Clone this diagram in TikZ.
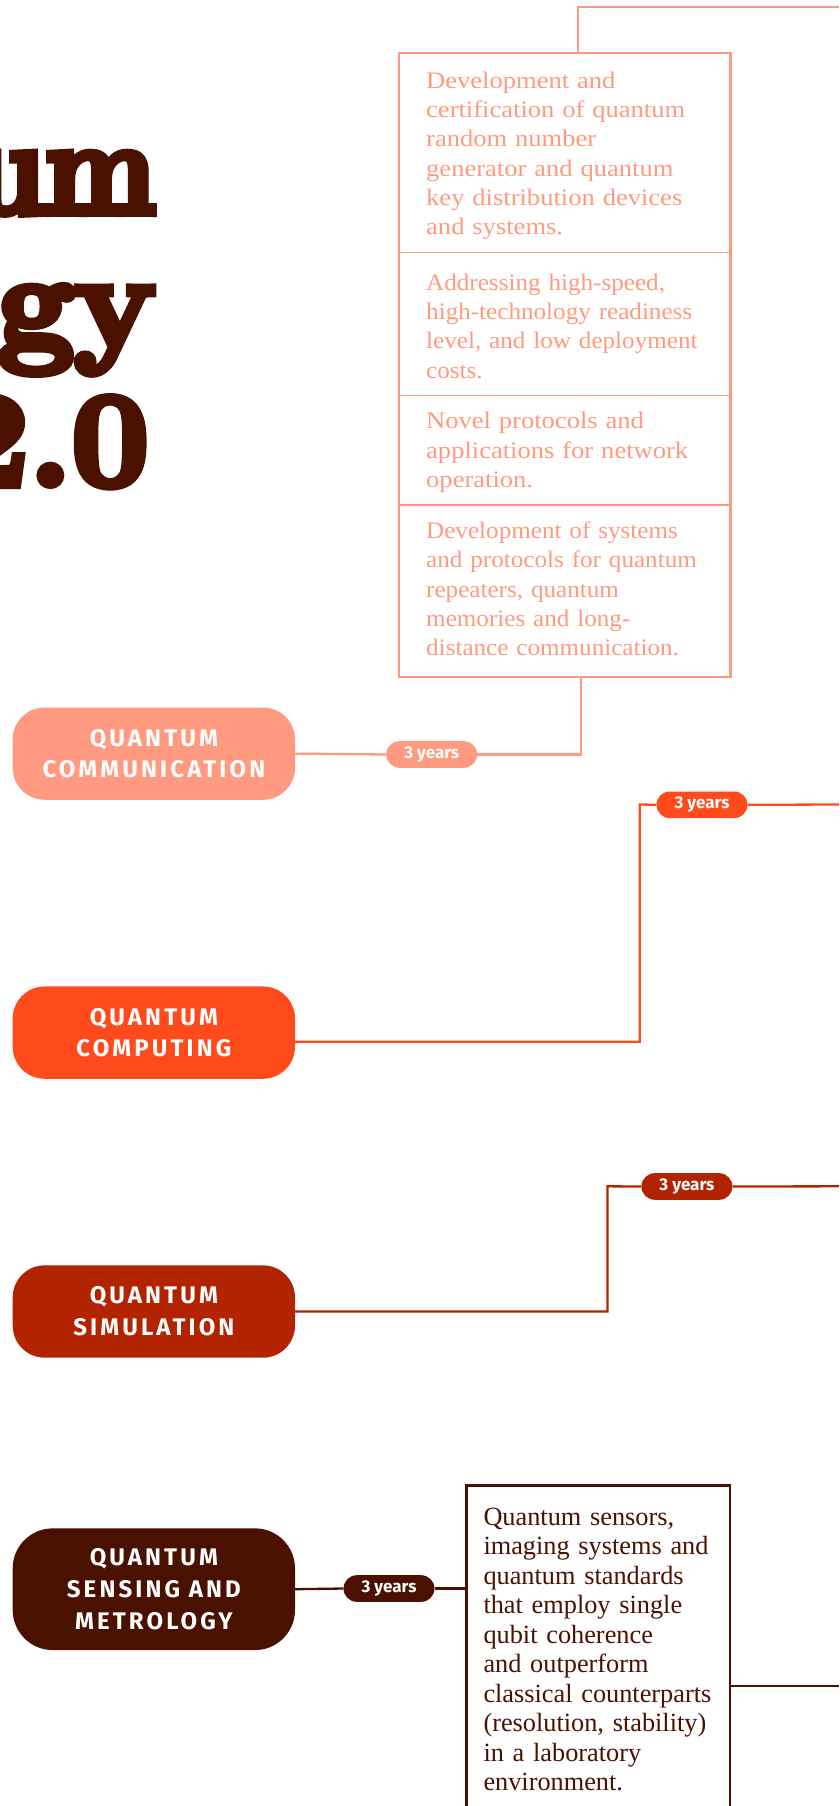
\documentclass[tikz,border=0pt]{standalone}
\usepackage{fontspec}
\newfontfamily\catfont[LetterSpace=13]{Fira Sans}
\newfontfamily\pillfont{Fira Sans}
\newfontfamily\commfont[FakeStretch=1.12]{Liberation Serif}
\newfontfamily\commfontn[FakeStretch=1.06]{Liberation Serif}
\newfontfamily\sensefont{Liberation Serif}
\newfontfamily\titlefont[FakeStretch=0.88,FakeBold=6]{Latin Modern Roman}
\newfontfamily\titlefontw[FakeStretch=1.02,FakeBold=6]{Latin Modern Roman}
\definecolor{ccomm}{HTML}{FF9A80}
\definecolor{ccomp}{HTML}{FF4B1C}
\definecolor{csim}{HTML}{B22400}
\definecolor{csens}{HTML}{4B1100}
\tikzset{
  cat/.style={rectangle, rounded corners=32pt, minimum width=282.3pt, minimum height=92.3pt,
    inner sep=0pt, align=center, text=white, font=\catfont\bfseries\fontsize{24}{31.7}\selectfont},
  pill/.style={rectangle, rounded corners=13.3pt, minimum width=91pt, minimum height=26.6pt,
    inner sep=0pt, text=white, font=\pillfont\bfseries\fontsize{17}{20}\selectfont},
  link/.style={line width=2.3pt},
  divider/.style={line width=1.5pt},
  ctext/.style={anchor=base west, inner sep=0pt, text width=300pt, align=left, text=ccomm,
    font=\commfont\fontsize{23.7}{29.3}\selectfont},
  ctextn/.style={ctext, font=\commfontn\fontsize{23.7}{29.3}\selectfont},
  stext/.style={anchor=base west, inner sep=0pt, text width=240pt, align=left, text=csens,
    font=\sensefont\fontsize{26.3}{29.5}\selectfont},
  ttl/.style={anchor=base east, inner sep=0pt, text=csens, font=\titlefont\bfseries\fontsize{134}{134}\selectfont},
  ttlw/.style={ttl, font=\titlefontw\bfseries\fontsize{134}{134}\selectfont},
}
\begin{document}
\begin{tikzpicture}[x=1pt,y=-1pt]
\useasboundingbox (0,0) rectangle (839,1806);
\begin{scope}
\clip (0,0) rectangle (839,1806);
% title
\node[ttl] (tum) at (156,213) {um};
\node[ttlw] (tgy) at (156,347) {gy};
\node[ttlw] (t20) at (149,485) {2.0};

% category nodes
\node[cat, fill=ccomm] (comm) at (153.85,753.65) {QUANTUM\\COMMUNICATION};
\node[cat, fill=ccomp] (comp) at (153.85,1032.6) {QUANTUM\\COMPUTING};
\node[cat, fill=csim] (sim) at (153.85,1311.5) {QUANTUM\\SIMULATION};
\node[cat, fill=csens, minimum height=121.7pt, rounded corners=40pt] (sens) at (153.85,1589.2) {QUANTUM\\SENSING AND\\METROLOGY};

% communication box
\node[draw=ccomm, line width=2.3pt, anchor=north west, minimum width=331.6pt, minimum height=623.5pt, inner sep=0pt] (cbox) at (397.7,52) {};
\draw[divider, ccomm] (cbox.west |- 0,252.4) -- (cbox.east |- 0,252.4);
\draw[divider, ccomm] (cbox.west |- 0,395.3) -- (cbox.east |- 0,395.3);
\draw[divider, ccomm] (cbox.west |- 0,504.8) -- (cbox.east |- 0,504.8);
\node[ctext] (c1) at (426,88.3) {Development and\\certification of quantum\\random number\\generator and quantum\\key distribution devices\\and systems.};
\node[ctextn] (c2) at (426,290.3) {Addressing high-speed,\\high-technology readiness\\level, and low deployment\\costs.};
\node[ctext] (c3) at (426,428.8) {Novel protocols and\\applications for network\\operation.};
\node[ctextn] (c4) at (426,538.4) {Development of systems\\and protocols for quantum\\repeaters, quantum\\memories and long-\\distance communication.};

% communication connectors
\coordinate (cTopEnd) at (839,7.3);
\draw[link, ccomm] ([xshift=13.2pt]cbox.north) |- (cTopEnd);
\node[pill, fill=ccomm] (p1) at (431.7,754.5) {3 years};
\draw[link, ccomm] (comm.east) -- (p1.west);
\draw[link, ccomm] (p1.east) -| ([xshift=16pt]cbox.south);

% computing
\coordinate (compTurn) at (639.8,804.5);
\coordinate (compEnd) at (839,804.5);
\node[pill, fill=ccomp] (p2) at (702,804.8) {3 years};
\draw[link, ccomp] ([yshift=-9.2pt]comp.east) -| (compTurn) -- (p2.west);
\draw[link, ccomp] (p2.east) -- (compEnd);

% simulation
\coordinate (simTurn) at (607.4,1186.3);
\coordinate (simEnd) at (839,1186.3);
\node[pill, fill=csim] (p3) at (686.9,1186.5) {3 years};
\draw[link, csim] (sim.east) -| (simTurn) -- (p3.west);
\draw[link, csim] (p3.east) -- (simEnd);

% sensing
\node[draw=csens, line width=2.3pt, anchor=north west, minimum width=263.5pt, minimum height=400pt, inner sep=0pt] (sbox) at (465.3,1484.3) {};
\node[stext] (s1) at (483.3,1525) {Quantum sensors,\\imaging systems and\\quantum standards\\that employ single\\qubit coherence\\and outperform\\classical counterparts\\(resolution, stability)\\in a laboratory\\environment.};
\node[pill, fill=csens] (p4) at (389,1588.5) {3 years};
\draw[link, csens] (sens.east) -- (p4.west);
\draw[link, csens] (p4.east) -- (p4.east -| sbox.west);
\coordinate (sEnd) at (839,1686);
\draw[link, csens] (sbox.east |- sEnd) -- (sEnd);
\end{scope}
\end{tikzpicture}
\end{document}
